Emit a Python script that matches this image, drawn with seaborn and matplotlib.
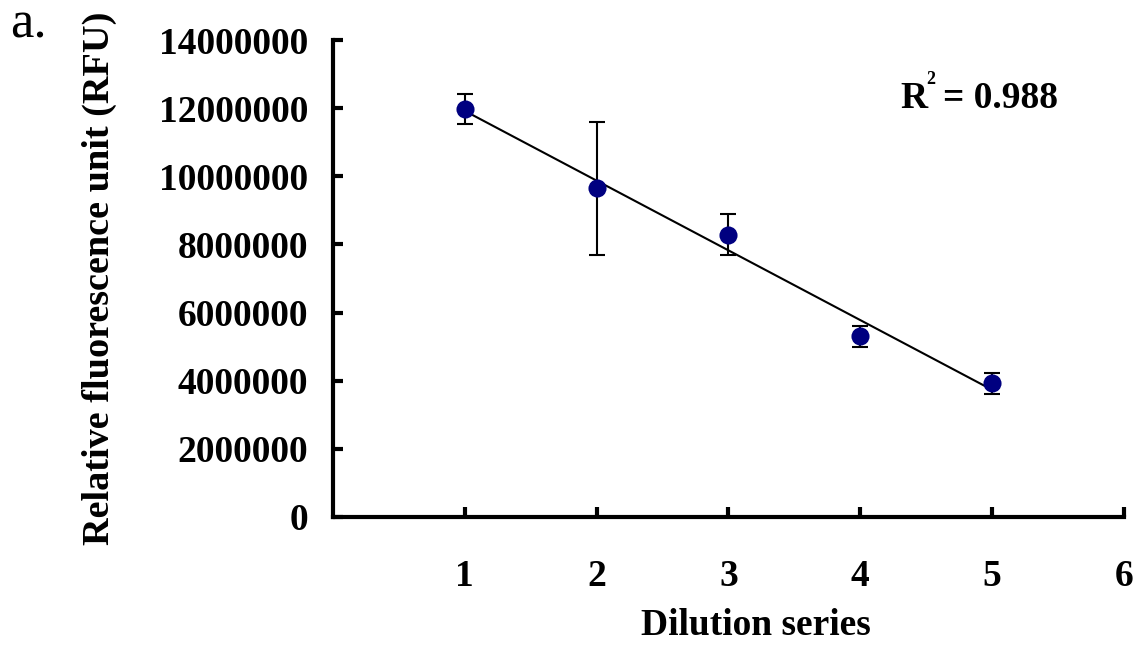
import numpy as np
import pandas as pd
import seaborn as sns
import matplotlib
matplotlib.use('Agg')
import matplotlib.pyplot as plt

sns.set_style('ticks', {'text.color': 'black', 'axes.labelcolor': 'black',
                        'xtick.color': 'black', 'ytick.color': 'black',
                        'axes.edgecolor': 'black'})
plt.rcParams['font.family'] = ['Liberation Serif', 'DejaVu Serif']

# data
dilution = [1, 2, 3, 4, 5]
rfu = [11980000, 9650000, 8280000, 5300000, 3920000]
rfu_err = [450000, 1950000, 600000, 320000, 300000]
x_ticks = [1, 2, 3, 4, 5, 6]
y_ticks = [0, 2000000, 4000000, 6000000, 8000000, 10000000, 12000000, 14000000]

df = pd.DataFrame({'dilution': dilution, 'rfu': rfu, 'err': rfu_err})

fig = plt.figure(figsize=(11.44, 6.53), dpi=100)
ax = fig.add_axes([0.291, 0.2083, 0.6915, 0.7304])

# linear trendline
sns.regplot(x='dilution', y='rfu', data=df, scatter=False, ci=None, ax=ax,
            line_kws={'color': 'black', 'lw': 1.5})

ax.errorbar(df['dilution'], df['rfu'], yerr=df['err'], fmt='none',
            ecolor='black', elinewidth=1.5, capsize=5.5, capthick=1.5, zorder=3)

sns.scatterplot(x='dilution', y='rfu', data=df, ax=ax, color='#000080',
                s=170, edgecolor='#000080', linewidth=0, zorder=4)

ax.set_xlim(0, 6)
ax.set_ylim(0, 14000000)
ax.set_xticks(x_ticks)
ax.set_yticks(y_ticks)
ax.set_xticklabels([str(t) for t in x_ticks])
ax.set_yticklabels([str(t) for t in y_ticks])

sns.despine(ax=ax)
for s in ['left', 'bottom']:
    ax.spines[s].set_linewidth(3)
ax.tick_params(axis='y', direction='in', length=7, width=3, pad=18,
               labelsize=27)
ax.tick_params(axis='x', direction='in', length=7, width=3, pad=30,
               labelsize=27)
for lab in ax.get_xticklabels() + ax.get_yticklabels():
    lab.set_fontweight('bold')

ax.set_xlabel('Dilution series', fontsize=27, fontweight='bold')
ax.xaxis.set_label_coords(0.535, -0.19)
ax.set_ylabel('Relative fluorescence unit (RFU)', fontsize=27.5,
              fontweight='bold', labelpad=30)

# R squared annotation
fig.text(900 / 1144, 1 - 108 / 653, 'R', fontsize=27, fontweight='bold',
         ha='left', va='baseline')
fig.text(926 / 1144, 1 - 84 / 653, '2', fontsize=13, fontweight='bold',
         ha='left', va='baseline')
fig.text(943 / 1144, 1 - 108 / 653, '= 0.988', fontsize=27, fontweight='bold',
         ha='left', va='baseline')

fig.text(0.009, 1 - 38 / 653, 'a.', fontsize=38, ha='left', va='baseline')

fig.savefig('out.png', dpi=100)
